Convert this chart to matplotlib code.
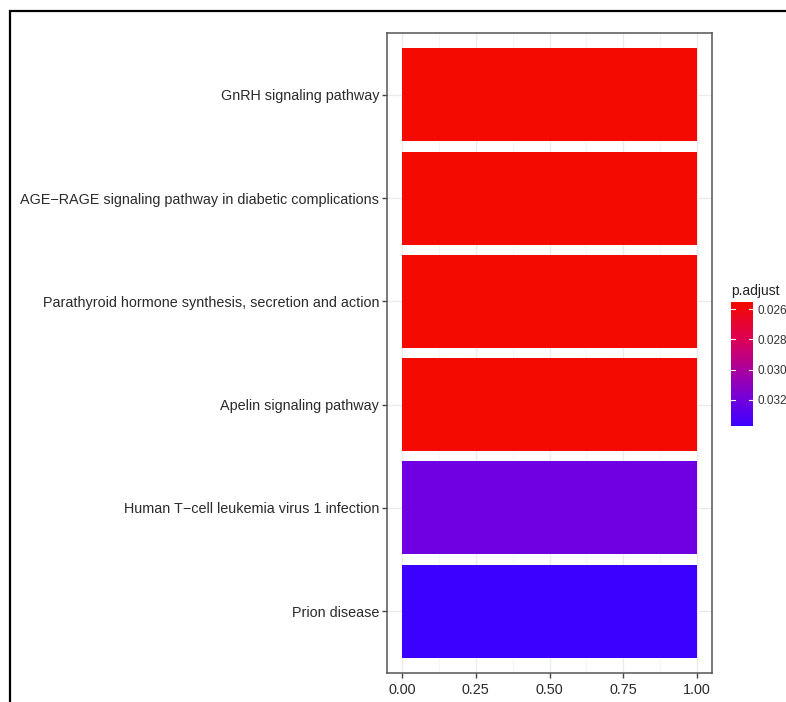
import numpy as np
import matplotlib
matplotlib.use("Agg")
import matplotlib.pyplot as plt
from matplotlib.colors import LinearSegmentedColormap, Normalize
from matplotlib.patches import Rectangle

plt.rcParams['font.family'] = ['Liberation Sans', 'DejaVu Sans']

# enrichment terms, bottom to top as drawn
pathways = ["Prion disease",
            "Human T\u2212cell leukemia virus 1 infection",
            "Apelin signaling pathway",
            "Parathyroid hormone synthesis, secretion and action",
            "AGE\u2212RAGE signaling pathway in diabetic complications",
            "GnRH signaling pathway"]
counts = [1, 1, 1, 1, 1, 1]
padj = [0.03373, 0.0321, 0.02553, 0.02553, 0.02553, 0.02553]
xticks = [0.00, 0.25, 0.50, 0.75, 1.00]
cbar_ticks = [0.026, 0.028, 0.030, 0.032]

# red (low p.adjust) to blue (high), roughly like ggplot's Lab gradient
cmap = LinearSegmentedColormap.from_list(
    "padj", [(0.0, "#f40a00"), (0.3, "#dd0055"), (0.55, "#aa00a0"),
             (0.8, "#7000e0"), (1.0, "#3c00ff")])
norm = Normalize(vmin=min(padj), vmax=max(padj))

W, H = 786, 702
fig = plt.figure(figsize=(W / 100, H / 100), dpi=100)

ax = fig.add_axes([387 / W, 1 - 673 / H, (712 - 387) / W, (673 - 33) / H])
ypos = np.arange(1, len(pathways) + 1)
ax.barh(ypos, counts, height=0.9, color=cmap(norm(padj)), zorder=3)

ax.set_xlim(-0.05, 1.05)
ax.set_ylim(0.4, len(pathways) + 0.6)
ax.set_xticks(xticks)
ax.set_xticklabels([f"{t:.2f}" for t in xticks])
ax.set_xticks([0.125, 0.375, 0.625, 0.875], minor=True)
ax.set_yticks(ypos)
ax.set_yticklabels(pathways)

ax.grid(which="major", color="#ebebeb", lw=1.0, zorder=0)
ax.grid(which="minor", axis="x", color="#f4f4f4", lw=0.6, zorder=0)
for s in ax.spines.values():
    s.set_color("#555555")
    s.set_linewidth(1.1)
ax.tick_params(axis="both", which="major", length=3.5, width=1.0, color="#444444",
               labelsize=10.4, labelcolor="#2b2b2b", pad=2)
ax.tick_params(axis="x", which="major", pad=3.5)
ax.tick_params(axis="both", which="minor", length=0)

# colour bar for p.adjust
cax = fig.add_axes([731 / W, 1 - 426 / H, 22 / W, 124 / H])
grad = np.linspace(max(padj), min(padj), 256).reshape(-1, 1)
cax.imshow(grad, aspect="auto", cmap=cmap, norm=norm,
           extent=[0, 1, min(padj), max(padj)], origin="upper")
cax.set_ylim(min(padj), max(padj))
cax.invert_yaxis()
cax.set_xlim(0, 1)
for t in cbar_ticks:
    cax.plot([0, 0.2], [t, t], color="white", lw=0.8)
    cax.plot([0.8, 1], [t, t], color="white", lw=0.8)
cax.set_xticks([])
cax.yaxis.tick_right()
cax.set_yticks(cbar_ticks)
cax.set_yticklabels([f"{t:.3f}" for t in cbar_ticks])
cax.tick_params(axis="y", length=0, labelsize=8.5, labelcolor="#333333", pad=3)
for s in cax.spines.values():
    s.set_visible(False)
fig.text(731 / W, 1 - 291 / H, "p.adjust", fontsize=10, color="#222222",
         ha="left", va="center")

# black frame round the figure, open past the right and bottom edges
fig.patches.append(Rectangle((10 / W, -0.1), 1.2, 1.1 - 11 / H,
                             transform=fig.transFigure, fill=False,
                             edgecolor="black", lw=1.6))

fig.savefig("out.png", dpi=100)
